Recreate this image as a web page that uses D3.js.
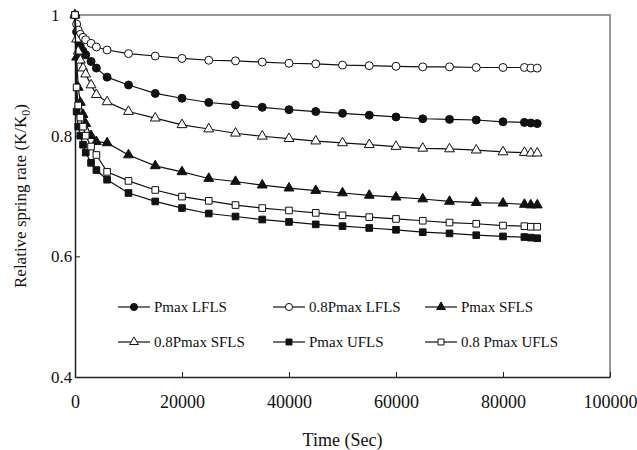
<!DOCTYPE html>
<html>
<head>
<meta charset="utf-8">
<script src="https://cdn.jsdelivr.net/npm/d3@7"></script>
<style>
  body { margin: 0; background: #fff; }
  text { font-family: "Liberation Serif", "Times New Roman", serif; fill: #111; }
</style>
</head>
<body>
<div id="chart"></div>
<script>
// time in seconds, shared by all series
const times = [0, 300, 600, 1000, 1500, 2000, 3000, 4000, 6000, 10000, 15000, 20000, 25000, 30000,
    35000, 40000, 45000, 50000, 55000, 60000, 65000, 70000, 75000, 80000, 84000, 85200, 86400];

const pmaxLFLS = [1.0, 0.972, 0.958, 0.948, 0.940, 0.934, 0.923, 0.912, 0.897, 0.884, 0.870, 0.862, 0.855, 0.851,
    0.847, 0.843, 0.840, 0.837, 0.834, 0.831, 0.828, 0.827, 0.826, 0.823, 0.822, 0.821, 0.820];
const p08LFLS = [1.0, 0.985, 0.975, 0.968, 0.963, 0.959, 0.953, 0.947, 0.942, 0.936, 0.932, 0.928, 0.925, 0.924,
    0.922, 0.920, 0.919, 0.917, 0.916, 0.915, 0.914, 0.914, 0.913, 0.913, 0.913, 0.912, 0.912];
const pmaxSFLS = [1.0, 0.93, 0.88, 0.855, 0.835, 0.82, 0.80, 0.790, 0.788, 0.768, 0.750, 0.740, 0.729, 0.724,
    0.718, 0.713, 0.709, 0.705, 0.701, 0.698, 0.695, 0.691, 0.689, 0.688, 0.686, 0.685, 0.685];
const p08SFLS = [1.0, 0.96, 0.94, 0.925, 0.912, 0.902, 0.884, 0.868, 0.856, 0.840, 0.829, 0.818, 0.811, 0.804,
    0.799, 0.795, 0.791, 0.788, 0.785, 0.782, 0.779, 0.778, 0.776, 0.773, 0.772, 0.771, 0.771];
const pmaxUFLS = [1.0, 0.84, 0.815, 0.80, 0.785, 0.772, 0.755, 0.743, 0.727, 0.705, 0.691, 0.680, 0.671, 0.666,
    0.661, 0.657, 0.653, 0.650, 0.647, 0.644, 0.640, 0.638, 0.635, 0.633, 0.632, 0.631, 0.630];
const p08UFLS = [1.0, 0.88, 0.85, 0.83, 0.815, 0.80, 0.782, 0.768, 0.740, 0.725, 0.710, 0.699, 0.692, 0.685,
    0.680, 0.676, 0.672, 0.668, 0.665, 0.662, 0.659, 0.656, 0.654, 0.651, 0.650, 0.649, 0.649];

const seriesNames = ["Pmax LFLS", "0.8Pmax LFLS", "Pmax SFLS", "0.8Pmax SFLS", "Pmax UFLS", "0.8 Pmax UFLS"];
const xTicks = [0, 20000, 40000, 60000, 80000, 100000];
const yTicks = [0.4, 0.6, 0.8, 1];

const series = [
    {name: seriesNames[0], values: pmaxLFLS, shape: d3.symbolCircle, filled: true},
    {name: seriesNames[1], values: p08LFLS, shape: d3.symbolCircle, filled: false},
    {name: seriesNames[2], values: pmaxSFLS, shape: d3.symbolTriangle, filled: true},
    {name: seriesNames[3], values: p08SFLS, shape: d3.symbolTriangle, filled: false},
    {name: seriesNames[4], values: pmaxUFLS, shape: d3.symbolSquare, filled: true},
    {name: seriesNames[5], values: p08UFLS, shape: d3.symbolSquare, filled: false}
];

const svg = d3.select("#chart").append("svg")
    .attr("width", 637)
    .attr("height", 450);

svg.append("rect").attr("width", 637).attr("height", 450).attr("fill", "#fff");

const margin = {top: 15, right: 27, bottom: 73, left: 75};
const width = 637 - margin.left - margin.right;
const height = 450 - margin.top - margin.bottom;

const g = svg.append("g").attr("transform", `translate(${margin.left},${margin.top})`);

const x = d3.scaleLinear().domain([0, 100000]).range([0, width]);
const y = d3.scaleLinear().domain([0.4, 1]).range([height, 0]);

// plot frame (top and right are grey)
g.append("path")
    .attr("d", `M0,0H${width}V${height}`)
    .attr("fill", "none")
    .attr("stroke", "#777")
    .attr("stroke-width", 1.5);

const xAxis = g.append("g")
    .attr("transform", `translate(0,${height})`)
    .call(d3.axisBottom(x).tickValues(xTicks).tickFormat(d3.format("d")).tickSizeInner(-5).tickSizeOuter(0));
xAxis.selectAll("text").attr("dy", null).attr("y", 31).style("font-size", "18px");

const yAxis = g.append("g")
    .call(d3.axisLeft(y).tickValues(yTicks).tickFormat(d => d === 1 ? "1" : d3.format(".1f")(d)).tickSizeInner(-5).tickSizeOuter(0));
yAxis.selectAll("text").attr("text-anchor", "start").attr("x", -24).style("font-size", "17px");

[xAxis, yAxis].forEach(a => {
    a.select(".domain").attr("stroke", "#222").attr("stroke-width", 1.5);
    a.selectAll(".tick line").attr("stroke", "#222");
});

const line = d3.line()
    .x((d, i) => x(times[i]))
    .y(d => y(d));

function symbolSize(shape) {
    if (shape === d3.symbolCircle) return 50;
    if (shape === d3.symbolTriangle) return 42;
    return 44;
}

series.forEach(s => {
    g.append("path")
        .datum(s.values)
        .attr("fill", "none")
        .attr("stroke", "#111")
        .attr("stroke-width", 1.2)
        .attr("d", line);

    g.selectAll(null)
        .data(s.values)
        .enter().append("path")
        .attr("transform", (d, i) => `translate(${x(times[i])},${y(d)})`)
        .attr("d", d3.symbol().type(s.shape).size(symbolSize(s.shape)))
        .attr("fill", s.filled ? "#111" : "#fff")
        .attr("stroke", "#111")
        .attr("stroke-width", 1);
});

// legend, 3 columns x 2 rows
const legendCols = [118, 273, 425];
const legendRows = [307, 342];

series.forEach((s, i) => {
    const lx = legendCols[i % 3];
    const ly = legendRows[Math.floor(i / 3)];
    const item = svg.append("g").attr("transform", `translate(${lx},${ly})`);
    item.append("line")
        .attr("x1", 0).attr("x2", 32)
        .attr("stroke", "#111").attr("stroke-width", 1.2);
    item.append("path")
        .attr("transform", "translate(16,0)")
        .attr("d", d3.symbol().type(s.shape).size(symbolSize(s.shape) * 0.8))
        .attr("fill", s.filled ? "#111" : "#fff")
        .attr("stroke", "#111");
    item.append("text")
        .attr("x", 36)
        .attr("y", 5)
        .style("font-size", "15px")
        .text(s.name);
});

svg.append("text")
    .attr("x", margin.left + width / 2)
    .attr("y", 446)
    .attr("text-anchor", "middle")
    .style("font-size", "18px")
    .text("Time (Sec)");

const yTitle = svg.append("text")
    .attr("transform", `translate(26,${margin.top + height / 2}) rotate(-90)`)
    .attr("text-anchor", "middle")
    .style("font-size", "17px");
yTitle.append("tspan").text("Relative spring rate (K/K");
yTitle.append("tspan").attr("dy", 4).style("font-size", "12px").text("0");
yTitle.append("tspan").attr("dy", -4).text(")");
</script>
</body>
</html>
